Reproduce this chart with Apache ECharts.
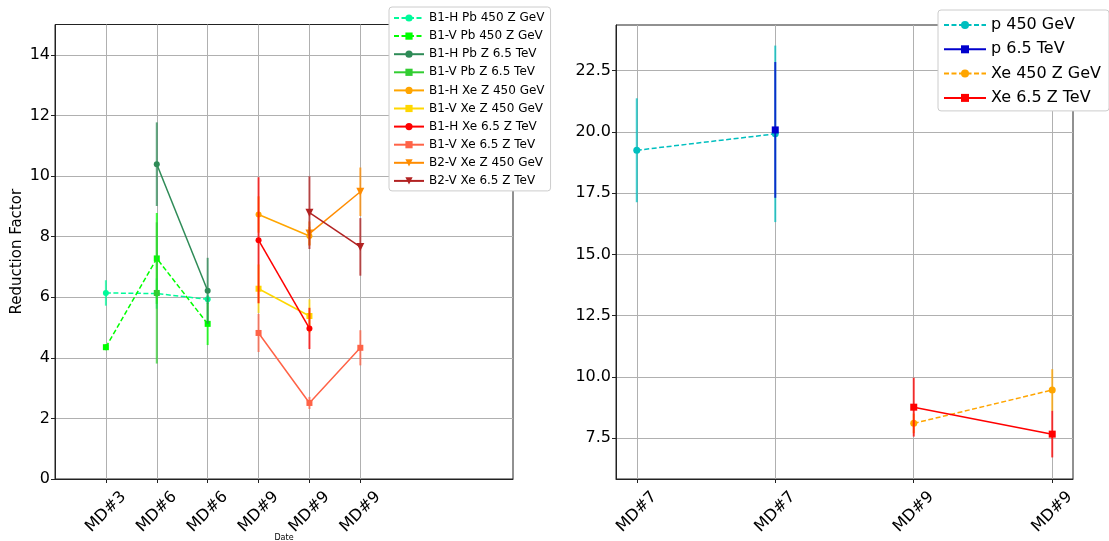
<!DOCTYPE html>
<html>
<head>
<meta charset="utf-8">
<script src="https://cdn.jsdelivr.net/npm/echarts@6/dist/echarts.min.js"></script>
<style>
  html, body { margin: 0; padding: 0; background: #fff; }
  #chart { width: 1109px; height: 541px; }
</style>
</head>
<body>
<div id="chart"></div>
<script>
// Tick labels for the two panels
const leftCategories = ['MD#3', 'MD#6', 'MD#6', 'MD#9', 'MD#9', 'MD#9'];
const rightCategories = ['MD#7', 'MD#7', 'MD#9', 'MD#9'];
const leftYTicks = [0, 2, 4, 6, 8, 10, 12, 14];
const rightYTicks = [7.5, 10, 12.5, 15, 17.5, 20, 22.5];

// Measurements: [category index, reduction factor, error]
const b1hPb450 = [[0, 6.14, 0.42], [1, 6.12, 0.5], [2, 5.93, 0.15]];
const b1vPb450 = [[0, 4.35, 0.1], [1, 7.28, 1.5], [2, 5.12, 0.7]];
const b1hPb65 = [[1, 10.39, 1.38], [2, 6.21, 1.09]];
const b1vPb65 = [[1, 6.14, 2.33]];
const b1hXe450 = [[3, 8.73, 0.6], [4, 8.02, 0.3]];
const b1vXe450 = [[3, 6.28, 0.8], [4, 5.38, 0.55]];
const b1hXe65 = [[3, 7.88, 2.08], [4, 4.97, 0.68]];
const b1vXe65 = [[3, 4.82, 0.63], [4, 2.51, 0.2], [5, 4.33, 0.58]];
const b2vXe450 = [[4, 8.1, 0.4], [5, 9.48, 0.8]];
const b2vXe65 = [[4, 8.79, 1.2], [5, 7.66, 0.95]];

const p450 = [[0, 19.25, 2.12], [1, 19.92, 3.6]];
const p65 = [[1, 20.08, 2.77]];
const xe450 = [[2, 8.11, 0.4], [3, 9.47, 0.85]];
const xe65 = [[2, 8.77, 1.2], [3, 7.67, 0.95]];

const FONT = 'DejaVu Sans';
const GRID_COLOR = '#b0b0b0';
const SPINE = '#222';

const leftSeriesDefs = [
  { name: 'B1-H Pb 450 Z GeV', data: b1hPb450, color: '#00FA9A', dashed: true, symbol: 'circle' },
  { name: 'B1-V Pb 450 Z GeV', data: b1vPb450, color: '#00FF00', dashed: true, symbol: 'rect' },
  { name: 'B1-H Pb Z 6.5 TeV', data: b1hPb65, color: '#2E8B57', dashed: false, symbol: 'circle' },
  { name: 'B1-V Pb Z 6.5 TeV', data: b1vPb65, color: '#32CD32', dashed: false, symbol: 'rect' },
  { name: 'B1-H Xe Z 450 GeV', data: b1hXe450, color: '#FFA500', dashed: false, symbol: 'circle' },
  { name: 'B1-V Xe Z 450 GeV', data: b1vXe450, color: '#FFD700', dashed: false, symbol: 'rect' },
  { name: 'B1-H Xe 6.5 Z TeV', data: b1hXe65, color: '#FF0000', dashed: false, symbol: 'circle' },
  { name: 'B1-V Xe 6.5 Z TeV', data: b1vXe65, color: '#FF6347', dashed: false, symbol: 'rect' },
  { name: 'B2-V Xe Z 450 GeV', data: b2vXe450, color: '#FF8C00', dashed: false, symbol: 'triangle' },
  { name: 'B2-V Xe 6.5 Z TeV', data: b2vXe65, color: '#B22222', dashed: false, symbol: 'triangle' }
];

const rightSeriesDefs = [
  { name: 'p 450 GeV', data: p450, color: '#00BFBF', dashed: true, symbol: 'circle' },
  { name: 'p 6.5 TeV', data: p65, color: '#0000CD', dashed: false, symbol: 'rect' },
  { name: 'Xe 450 Z GeV', data: xe450, color: '#FFA500', dashed: true, symbol: 'circle' },
  { name: 'Xe 6.5 Z TeV', data: xe65, color: '#FF0000', dashed: false, symbol: 'rect' }
];

// Vertical error bars drawn through the axis scales
function errorBars(def, axisIndex, z) {
  return {
    type: 'custom',
    name: def.name + ' (err)',
    xAxisIndex: axisIndex,
    yAxisIndex: axisIndex,
    z: z,
    silent: true,
    data: def.data.map(d => [d[0], d[1] - d[2], d[1] + d[2]]),
    encode: { x: 0, y: [1, 2] },
    renderItem(params, api) {
      const lo = api.coord([api.value(0), api.value(1)]);
      const hi = api.coord([api.value(0), api.value(2)]);
      return {
        type: 'line',
        shape: { x1: lo[0], y1: lo[1], x2: hi[0], y2: hi[1] },
        style: { stroke: def.color, lineWidth: 2, opacity: 0.75 }
      };
    }
  };
}

function lineSeries(def, axisIndex, z, symSize) {
  return {
    type: 'line',
    name: def.name,
    xAxisIndex: axisIndex,
    yAxisIndex: axisIndex,
    z: z,
    data: def.data.map(d => [d[0], d[1]]),
    symbol: def.symbol,
    symbolSize: def.symbol === 'triangle' ? 8 : symSize,
    symbolRotate: def.symbol === 'triangle' ? 180 : 0,
    showAllSymbol: true,
    animation: false,
    itemStyle: { color: def.color },
    lineStyle: { color: def.color, width: 1.5, type: def.dashed ? [5, 2.5] : 'solid' },
    emphasis: { disabled: true }
  };
}

const series = [];
leftSeriesDefs.forEach((d, i) => {
  series.push(errorBars(d, 0, 10 + 2 * i));
  series.push(lineSeries(d, 0, 11 + 2 * i, 6));
});
rightSeriesDefs.forEach((d, i) => {
  series.push(errorBars(d, 1, 10 + 2 * i));
  series.push(lineSeries(d, 1, 11 + 2 * i, 7));
});

function xAxisFor(gridIndex, cats, min, max, extra) {
  const idx = cats.map((_, i) => i);
  return Object.assign({
    gridIndex: gridIndex,
    type: 'value',
    min: min,
    max: max,
    axisLine: { show: true, onZero: false, lineStyle: { color: SPINE, width: 1 } },
    axisTick: { show: true, customValues: idx, length: 4, lineStyle: { color: SPINE } },
    axisLabel: {
      customValues: idx,
      formatter: v => cats[Math.round(v)],
      rotate: 45,
      align: 'center',
      verticalAlign: 'middle',
      margin: 33,
      fontSize: 16,
      fontFamily: FONT,
      color: '#000'
    },
    splitLine: { show: true, lineStyle: { color: GRID_COLOR, width: 1 } }
  }, extra || {});
}

function yAxisFor(gridIndex, ticks, min, max, fmt, extra) {
  return Object.assign({
    gridIndex: gridIndex,
    type: 'value',
    min: min,
    max: max,
    axisLine: { show: true, onZero: false, lineStyle: { color: SPINE, width: 1 } },
    axisTick: { show: true, customValues: ticks, length: 4, lineStyle: { color: SPINE } },
    axisLabel: {
      customValues: ticks,
      formatter: fmt,
      margin: 5,
      fontSize: 16,
      fontFamily: FONT,
      color: '#000'
    },
    splitLine: { show: true, lineStyle: { color: GRID_COLOR, width: 1 } }
  }, extra || {});
}

const option = {
  animation: false,
  backgroundColor: '#fff',
  textStyle: { fontFamily: FONT },
  grid: [
    { left: 55, top: 24.5, width: 458, height: 454.5, show: true, borderColor: SPINE, borderWidth: 1,
      backgroundColor: 'transparent', outerBoundsMode: 'none', containLabel: false },
    { left: 616, top: 25, width: 457, height: 454, show: true, borderColor: SPINE, borderWidth: 1,
      backgroundColor: 'transparent', outerBoundsMode: 'none', containLabel: false }
  ],
  xAxis: [
    xAxisFor(0, leftCategories, -1, 8, {
      name: 'Date', nameLocation: 'middle', nameGap: 55, nameMoveOverlap: false,
      nameTextStyle: { fontSize: 8, color: '#000', fontFamily: FONT }
    }),
    xAxisFor(1, rightCategories, -0.15, 3.15)
  ],
  yAxis: [
    yAxisFor(0, leftYTicks, 0, 15, v => String(v), {
      name: 'Reduction Factor', nameLocation: 'middle', nameGap: 30, nameMoveOverlap: false,
      nameTextStyle: { fontSize: 15, color: '#000', fontFamily: FONT }
    }),
    yAxisFor(1, rightYTicks, 5.84, 24.36, v => v.toFixed(1))
  ],
  legend: [
    {
      data: leftSeriesDefs.map(d => d.name),
      orient: 'vertical',
      left: 389,
      top: 7,
      padding: [5, 6, 4, 4],
      itemWidth: 30,
      itemHeight: 9,
      itemGap: 6.1,
      backgroundColor: '#fff',
      borderColor: '#ccc',
      borderWidth: 1,
      borderRadius: 3,
      selectedMode: false,
      textStyle: { fontSize: 12, lineHeight: 12, color: '#000', fontFamily: FONT }
    },
    {
      data: rightSeriesDefs.map(d => d.name),
      orient: 'vertical',
      left: 938,
      top: 10,
      padding: [7, 8, 5, 5],
      itemWidth: 42,
      itemHeight: 10,
      itemGap: 8.3,
      backgroundColor: '#fff',
      borderColor: '#ccc',
      borderWidth: 1,
      borderRadius: 3,
      selectedMode: false,
      textStyle: { fontSize: 16, lineHeight: 16, color: '#000', fontFamily: FONT }
    }
  ],
  series: series
};

const chart = echarts.init(document.getElementById('chart'), null, { renderer: 'canvas' });
chart.setOption(option);
</script>
</body>
</html>
